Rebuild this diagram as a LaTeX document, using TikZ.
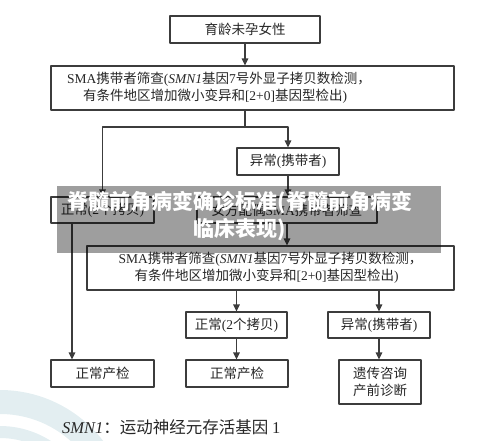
\documentclass[tikz,border=0pt]{standalone}
\usepackage{fontspec}
\setmainfont{Noto Sans CJK SC}
\newfontfamily\romfont{Liberation Serif}
\newcommand{\rom}[1]{{\romfont #1}}
\usetikzlibrary{arrows.meta}
\definecolor{boxline}{HTML}{3C3C3C}
\definecolor{wmark}{HTML}{E3EEF1}
\begin{document}
\begin{tikzpicture}[x=1pt,y=-1pt,>={Triangle[length=7pt,width=6.5pt]},line join=round,font=\fontsize{13.5}{17}\selectfont,
	box/.style={draw=boxline,line width=1.1pt,inner sep=0pt,text=black!85,align=center},
	link/.style={draw=boxline,line width=1.1pt}]
	\useasboundingbox (0,0) rectangle (500,440);
	% faint watermark in the corner
	\begin{scope}
		\clip (0,0) rectangle (500,440);
		\draw[wmark,line width=24pt] (0,520) circle (118pt);
		\draw[wmark,line width=12pt] (0,520) circle (88pt);
	\end{scope}
	% boxes
	\node[box,minimum width=150pt,minimum height=27pt] (women) at (245,29.5) {育龄未孕女性};
	\node[box,minimum height=44pt,text width=371pt,inner xsep=16pt,align=left] (screenA) at (252.5,88) {\rom{SMA}携带者筛查\rom{(\textit{SMN1}}基因\rom{7}号外显子拷贝数检测，\\\hspace*{16pt}有条件地区增加微小变异和\rom{[2+0]}基因型检出\rom{)}};
	\node[box,minimum width=102pt,minimum height=27pt] (carrierA) at (288,161.5) {异常\rom{(}携带者\rom{)}};
	\node[box,minimum width=103pt,minimum height=26pt] (normalA) at (102.5,210) {正常\rom{(2}个拷贝\rom{)}};
	\node[box,minimum width=180pt,minimum height=26pt] (spouse) at (287,210) {女方配偶\rom{SMA}携带者筛查};
	\node[box,minimum width=367pt,minimum height=44pt,align=left] (screenB) at (270.5,268) {\rom{SMA}携带者筛查\rom{(\textit{SMN1}}基因\rom{7}号外显子拷贝数检测，\\\hspace*{16pt}有条件地区增加微小变异和\rom{[2+0]}基因型检出\rom{)}};
	\node[box,minimum width=101pt,minimum height=26pt] (normalB) at (236.5,325) {正常\rom{(2}个拷贝\rom{)}};
	\node[box,minimum width=102pt,minimum height=26pt] (carrierB) at (379,325) {异常\rom{(}携带者\rom{)}};
	\node[box,minimum width=103pt,minimum height=27pt] (checkA) at (102.5,373.5) {正常产检};
	\node[box,minimum width=102pt,minimum height=27pt] (checkB) at (237,373.5) {正常产检};
	\node[box,minimum width=82pt,minimum height=44pt] (counsel) at (380,382) {遗传咨询\\产前诊断};
	% connectors
	\coordinate (split) at (245,127);
	\coordinate (drop) at (72,0);
	\draw[link,->] (women.south) -- (women.south |- screenA.north);
	\draw[link] (screenA.south -| split) -- (split);
	\draw[link,->] (split) -| (normalA.north);
	\draw[link,->] (split) -| (carrierA.north);
	\draw[link,->] (normalA.south -| drop) -- (checkA.north -| drop);
	\draw[link,->] (screenB.south -| normalB.north) -- (normalB.north);
	\draw[link,->] (screenB.south -| carrierB.north) -- (carrierB.north);
	\foreach \a/\b in {carrierA/spouse,spouse/screenB,normalB/checkB,carrierB/counsel}
		\draw[link,->] (\a.south) -- (\a.south |- \b.north);
	% footnote
	\node[anchor=west,inner sep=0pt,font=\fontsize{16.5}{20}\selectfont,text=black!85] (note) at (62,427) {\rom{\textit{SMN1}}：运动神经元存活基因 \rom{1}};
	% caption banner on top
	\node[fill=black,fill opacity=0.38,minimum width=384pt,minimum height=67pt,inner sep=0pt] (banner) at (249,219.5) {};
	\node[text=white,align=center,inner sep=0pt,font=\fontsize{21}{27}\selectfont\bfseries] (title) at (240,216.5) {脊髓前角病变确诊标准(脊髓前角病变\\临床表现)};
\end{tikzpicture}
\end{document}
